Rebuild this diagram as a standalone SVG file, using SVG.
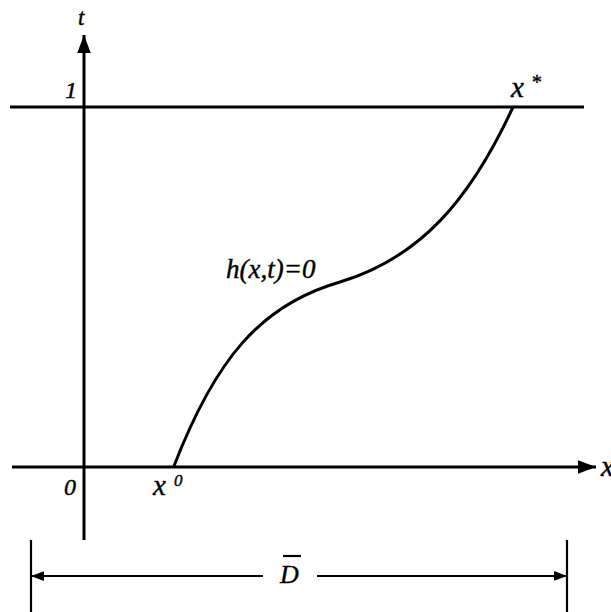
<svg xmlns="http://www.w3.org/2000/svg" width="611" height="612" viewBox="0 0 611 612">
<style>
.ln{stroke:#000;stroke-width:3;fill:none}
.thin{stroke:#000;stroke-width:2.2;fill:none}
.lb{font-family:"Liberation Serif","DejaVu Serif",serif;font-style:italic;fill:#000;stroke:#000;stroke-width:0.4}
</style>
<defs>
<marker id="ah" markerWidth="6" markerHeight="4.5" refX="6" refY="2.25" orient="auto" markerUnits="strokeWidth">
<path d="M0,0 L6,2.25 L0,4.5 z" fill="#000"/>
</marker>
</defs>
<rect width="611" height="612" fill="#fff"/>
<g id="connectors">
<line id="t-axis" class="ln" x1="84" y1="540" x2="84" y2="35" marker-end="url(#ah)"/>
<line id="x-axis" class="ln" x1="12" y1="467" x2="596" y2="467" marker-end="url(#ah)"/>
<line id="t1-line" class="ln" x1="10" y1="107" x2="584" y2="107"/>
<path id="curve" class="ln" stroke-width="3.2" d="M174,466 C215,360 260,305 340,282 C420,258 470,200 513,107"/>
<line class="thin" x1="31" y1="540" x2="31" y2="612"/>
<line class="thin" x1="567" y1="540" x2="567" y2="612"/>
<line class="thin" x1="263" y1="576" x2="31" y2="576" marker-end="url(#ah)"/>
<line class="thin" x1="317" y1="576" x2="567" y2="576" marker-end="url(#ah)"/>
</g>
<g id="labels">
<text class="lb" x="78" y="25" font-size="23">t</text>
<text class="lb" x="65" y="98" font-size="24">1</text>
<text class="lb" x="511" y="97" font-size="29">x</text>
<text class="lb" x="531" y="89" font-size="20">*</text>
<text class="lb" x="226" y="278" font-size="27">h(x,t)=0</text>
<text class="lb" x="64" y="495" font-size="24">0</text>
<text class="lb" x="153" y="495" font-size="29">x</text>
<text class="lb" x="174" y="486" font-size="17">0</text>
<text class="lb" x="601" y="476" font-size="29">x</text>
<text class="lb" x="280" y="583" font-size="26">D</text>
<line x1="283" y1="556" x2="301" y2="556" stroke="#000" stroke-width="2.2"/>
</g>
</svg>
